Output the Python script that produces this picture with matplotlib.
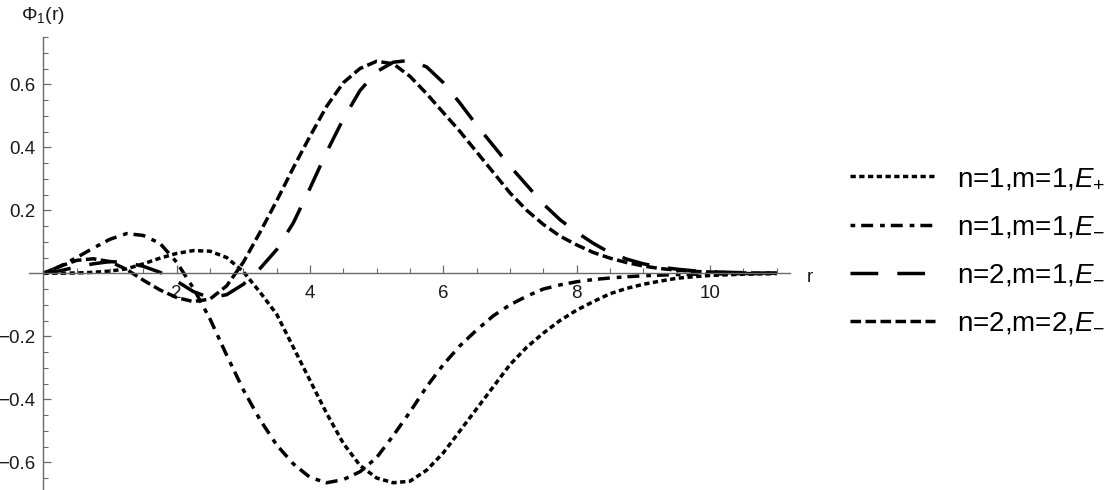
import numpy as np
import matplotlib
matplotlib.use("Agg")
import matplotlib.pyplot as plt

plt.rcParams['font.family'] = ['Liberation Sans', 'DejaVu Sans']
plt.rcParams['mathtext.fontset'] = 'custom'
plt.rcParams['mathtext.rm'] = 'Liberation Sans'
plt.rcParams['mathtext.it'] = 'Liberation Sans:italic'
plt.rcParams['mathtext.bf'] = 'Liberation Sans:bold'
plt.rcParams['lines.scale_dashes'] = False

# ---- data ----
r = [0, 0.25, 0.5, 0.75, 1, 1.25, 1.5, 1.75, 2, 2.25, 2.5, 2.75, 3, 3.25, 3.5,
     3.75, 4, 4.25, 4.5, 4.75, 5, 5.25, 5.5, 5.75, 6, 6.25, 6.5, 6.75, 7, 7.25,
     7.5, 7.75, 8, 8.25, 8.5, 8.75, 9, 9.25, 9.5, 9.75, 10, 10.25, 10.5, 10.75, 11]

phi_n1m1_Ep = [0, 0.0, 0.001, 0.003, 0.007, 0.014, 0.03, 0.048, 0.063, 0.072,
               0.07, 0.05, 0.005, -0.06, -0.13, -0.235, -0.34, -0.445, -0.54,
               -0.61, -0.65, -0.665, -0.66, -0.625, -0.57, -0.5, -0.43, -0.36,
               -0.29, -0.235, -0.19, -0.15, -0.117, -0.09, -0.065, -0.048,
               -0.035, -0.025, -0.016, -0.011, -0.007, -0.005, -0.003, -0.002,
               -0.001]

phi_n1m1_Em = [0, 0.022, 0.05, 0.08, 0.108, 0.126, 0.12, 0.095, 0.035, -0.047,
               -0.145, -0.26, -0.37, -0.465, -0.545, -0.605, -0.648, -0.665,
               -0.655, -0.63, -0.585, -0.515, -0.44, -0.36, -0.29, -0.23, -0.18,
               -0.135, -0.1, -0.073, -0.05, -0.037, -0.027, -0.02, -0.015,
               -0.011, -0.008, -0.006, -0.004, -0.003, -0.002, -0.002, -0.001,
               -0.001, 0]

phi_n2m1_Em = [0, 0.008, 0.02, 0.03, 0.037, 0.034, 0.022, 0.003, -0.025, -0.058,
               -0.078, -0.068, -0.035, 0.015, 0.075, 0.16, 0.27, 0.385, 0.49,
               0.58, 0.64, 0.67, 0.676, 0.655, 0.605, 0.54, 0.47, 0.405, 0.34,
               0.28, 0.22, 0.17, 0.13, 0.095, 0.065, 0.045, 0.03, 0.02, 0.013,
               0.008, 0.005, 0.003, 0.002, 0.001, 0.0]

phi_n2m2_Em = [0, 0.022, 0.041, 0.046, 0.037, 0.012, -0.022, -0.053, -0.077,
               -0.09, -0.082, -0.04, 0.035, 0.13, 0.23, 0.335, 0.435, 0.53,
               0.605, 0.65, 0.673, 0.665, 0.625, 0.57, 0.51, 0.45, 0.385, 0.32,
               0.255, 0.2, 0.155, 0.118, 0.09, 0.066, 0.048, 0.034, 0.023,
               0.015, 0.01, 0.006, 0.004, 0.002, 0.001, 0.001, 0.0]

labels = [r"n=1,m=1,$E_{+}$", r"n=1,m=1,$E_{-}$",
          r"n=2,m=1,$E_{-}$", r"n=2,m=2,$E_{-}$"]

xticks_major = [2, 4, 6, 8, 10]
yticks_major = [-0.6, -0.4, -0.2, 0.2, 0.4, 0.6]
ytick_labels = ["\u22120.6", "\u22120.4", "\u22120.2", "0.2", "0.4", "0.6"]

# ---- figure ----
W, H = 1116, 490
fig = plt.figure(figsize=(W / 100, H / 100), dpi=100)
ax = fig.add_axes([29 / W, 0, (790 - 29) / W, (490 - 37) / H])
ax.set_xlim(-0.215, 11.2)
ax.set_ylim(-0.688, 0.750)

lw = 2.5
styles = [
    (0, (3.8, 2.5)),              # dotted
    (0, (3.4, 4.3, 8.6, 5.0)),    # dash-dot
    (0, (20.0, 13.7)),            # long dash
    (0, (7.6, 3.2)),              # short dash
]
series = [phi_n1m1_Ep, phi_n1m1_Em, phi_n2m1_Em, phi_n2m2_Em]
handles = []
for ys, ls, lab in zip(series, styles, labels):
    h, = ax.plot(r, ys, color='black', lw=lw, linestyle=ls, label=lab,
                 dash_capstyle='butt', solid_capstyle='butt',
                 dash_joinstyle='round')
    handles.append(h)

axis_col = '#6a6a6a'
for s in ['top', 'right']:
    ax.spines[s].set_visible(False)
ax.spines['left'].set_position(('data', 0))
ax.spines['bottom'].set_position(('data', 0))
for s in ['left', 'bottom']:
    ax.spines[s].set_color(axis_col)
    ax.spines[s].set_linewidth(1.0)

ax.set_xticks(xticks_major)
ax.set_xticks([v / 2 for v in range(1, 23) if v % 4 != 0], minor=True)
ax.set_yticks(yticks_major)
ax.set_yticklabels(ytick_labels)
ax.set_yticks([round(-0.65 + 0.05 * i, 2) for i in range(29)
               if round(-0.65 + 0.05 * i, 2) not in (-0.6, -0.4, -0.2, 0.0, 0.2, 0.4, 0.6)],
              minor=True)

ax.tick_params(axis='both', which='both', direction='in', color=axis_col,
               labelcolor='#1a1a1a', labelsize=13.5)
ax.tick_params(axis='both', which='major', length=6, width=0.9)
ax.tick_params(axis='both', which='minor', length=3.5, width=0.8)
ax.tick_params(axis='x', which='major', pad=8.5)
ax.tick_params(axis='y', which='major', pad=5.5)

fig.text(43.5 / W, 1 - 15 / H, "\u03a6$_1$(r)", ha='center', va='center',
         fontsize=14, color='#1a1a1a')
fig.text(810 / W, 1 - 282 / H, "r", ha='center', va='baseline',
         fontsize=13.5, color='#1a1a1a')

leg = ax.legend(handles=handles, loc='upper left',
                bbox_to_anchor=(850 / W, 1 - 166 / H),
                bbox_transform=fig.transFigure, frameon=False,
                fontsize=20, handlelength=3.06, handletextpad=0.79,
                labelspacing=0.8, borderpad=0, borderaxespad=0)

fig.savefig("out.png", dpi=100)
